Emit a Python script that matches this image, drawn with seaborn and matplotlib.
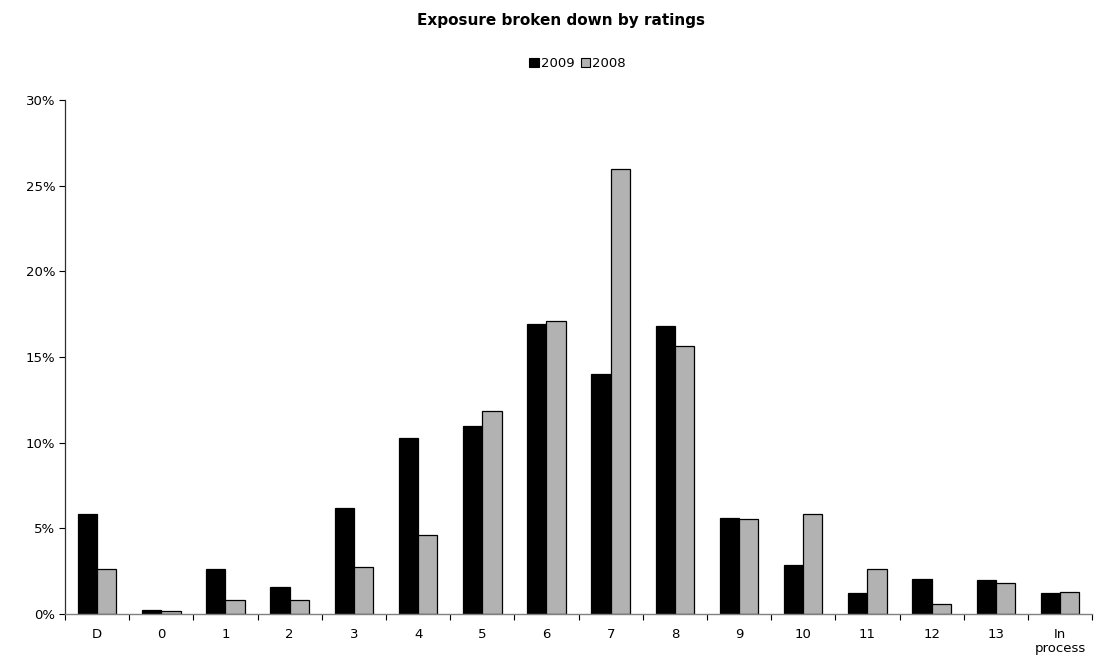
import numpy as np
import pandas as pd
import matplotlib
matplotlib.use("Agg")
import matplotlib.pyplot as plt
import seaborn as sns
from matplotlib.patches import Patch
from matplotlib.ticker import FuncFormatter, FixedLocator

categories = ["D", "0", "1", "2", "3", "4", "5", "6", "7", "8", "9", "10", "11", "12", "13", "In\nprocess"]
values_2009 = [5.84, 0.23, 2.60, 1.56, 6.18, 10.29, 10.95, 16.94, 14.00, 16.80, 5.63, 2.86, 1.22, 2.07, 1.97, 1.20]
values_2008 = [2.65, 0.20, 0.83, 0.81, 2.75, 4.59, 11.83, 17.11, 25.95, 15.65, 5.57, 5.85, 2.64, 0.57, 1.83, 1.27]
series = ["2009", "2008"]
colors = {"2009": "#000000", "2008": "#B2B2B2"}

df = pd.DataFrame({
    "rating": categories * 2,
    "year": ["2009"] * len(categories) + ["2008"] * len(categories),
    "value": values_2009 + values_2008,
})

sns.set_theme(style="white")
plt.rcParams["font.family"] = ["DejaVu Sans"]
plt.rcParams["text.color"] = "black"
plt.rcParams["xtick.color"] = "black"
plt.rcParams["ytick.color"] = "black"

fig = plt.figure(figsize=(11.02, 6.66), dpi=100)
ax = fig.add_axes([0.059, 0.078, 0.932, 0.772])

sns.barplot(data=df, x="rating", y="value", hue="year", hue_order=series,
            palette=colors, order=categories, width=0.6, gap=0,
            edgecolor="black", linewidth=0.9, ax=ax, legend=False)

ax.set_xlim(-0.5, len(categories) - 0.5)
ax.set_ylim(0, 30)
ax.set_yticks(np.arange(0, 31, 5))
ax.yaxis.set_major_formatter(FuncFormatter(lambda v, p: f"{v:.0f}%"))
ax.tick_params(axis="y", which="major", direction="out", length=4, width=0.8,
               color="black", labelcolor="black", labelsize=9.5, left=True, pad=3)

# x: labels at centers (minor), tick marks at boundaries (major)
ax.xaxis.set_major_locator(FixedLocator(np.arange(-0.5, len(categories), 1)))
ax.xaxis.set_major_formatter(FuncFormatter(lambda v, p: ""))
ax.set_xticks(np.arange(len(categories)), labels=categories, minor=True)
ax.tick_params(axis="x", which="major", direction="out", length=4, width=0.8,
               color="black", bottom=True)
ax.tick_params(axis="x", which="minor", length=0, labelsize=9.5, labelcolor="black", pad=10)
for lbl in ax.get_xticklabels(minor=True):
    lbl.set_verticalalignment("top")
    lbl.set_linespacing(1.15)

ax.set_xlabel("")
ax.set_ylabel("")
for s in ["top", "right"]:
    ax.spines[s].set_visible(False)
ax.spines["left"].set_color("#303030")
ax.spines["left"].set_linewidth(0.9)
ax.spines["bottom"].set_color("#808080")
ax.spines["bottom"].set_linewidth(1.0)
ax.grid(False)

fig.suptitle("Exposure broken down by ratings", x=0.509, y=0.98,
             fontsize=11, fontweight="bold", color="black")

handles = [Patch(facecolor=colors[s], edgecolor="black", linewidth=0.8, label=s) for s in series]
fig.legend(handles=handles, loc="center", bbox_to_anchor=(0.524, 0.905), ncol=2,
           frameon=False, fontsize=9.5, handlelength=0.7, handleheight=0.7,
           handletextpad=0.15, columnspacing=0.5, labelcolor="black")

fig.savefig("out.png", dpi=100)
